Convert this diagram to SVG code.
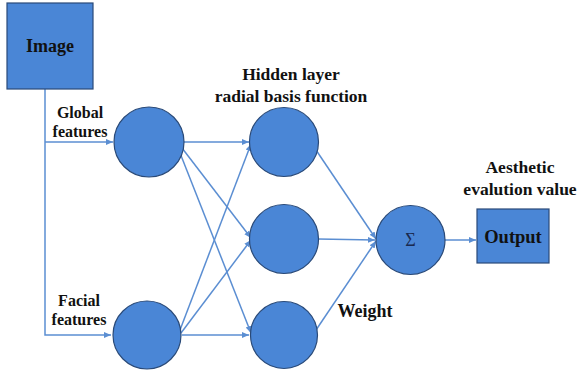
<svg xmlns="http://www.w3.org/2000/svg" width="579" height="375" viewBox="0 0 579 375">
<defs>
<style>
.n{fill:#4A86D6;stroke:#2A4A78;stroke-width:1.2}
.c{stroke:#5B8ED2;stroke-width:1.5;fill:none}
.t{font-family:'Liberation Serif','Times New Roman','DejaVu Serif',serif;font-weight:bold;fill:#111;text-anchor:middle}
.s{font-family:'Liberation Serif','Times New Roman','DejaVu Serif',serif;fill:#1a2a50;text-anchor:middle}
</style>
<marker id="a" markerWidth="8" markerHeight="8" refX="7" refY="4" orient="auto" markerUnits="userSpaceOnUse">
<path d="M0,1 L7,4 L0,7 z" fill="#5B8ED2"/>
</marker>
</defs>
<rect width="579" height="375" fill="#fff"/>
<g id="connectors">
<polyline class="c" points="45,89 45,335 111,335" marker-end="url(#a)"/>
<line class="c" x1="45" y1="142" x2="113" y2="142" marker-end="url(#a)"/>
<line class="c" x1="184" y1="142" x2="249" y2="142" marker-end="url(#a)"/>
<line class="c" x1="182" y1="148" x2="251" y2="238" marker-end="url(#a)"/>
<line class="c" x1="180" y1="153" x2="251" y2="333" marker-end="url(#a)"/>
<line class="c" x1="180" y1="330" x2="251" y2="144" marker-end="url(#a)"/>
<line class="c" x1="181" y1="333" x2="251" y2="240" marker-end="url(#a)"/>
<line class="c" x1="182" y1="335" x2="249" y2="335" marker-end="url(#a)"/>
<line class="c" x1="316" y1="150" x2="376" y2="239" marker-end="url(#a)"/>
<line class="c" x1="318" y1="239" x2="375" y2="240" marker-end="url(#a)"/>
<line class="c" x1="316" y1="330" x2="376" y2="241" marker-end="url(#a)"/>
<line class="c" x1="445" y1="240" x2="476" y2="240" marker-end="url(#a)"/>
</g>
<g id="image">
<rect class="n" x="7" y="3" width="86" height="86"/>
<text class="t" x="50" y="52" font-size="18">Image</text>
</g>
<g id="global">
<circle class="n" cx="149" cy="142" r="35"/>
<text class="t" x="80" y="118" font-size="16">Global</text>
<text class="t" x="80" y="137" font-size="16">features</text>
</g>
<g id="facial">
<circle class="n" cx="147" cy="335" r="34"/>
<text class="t" x="79" y="306" font-size="16">Facial</text>
<text class="t" x="79" y="325" font-size="16">features</text>
</g>
<g id="hidden-label">
<text class="t" x="291" y="80" font-size="17.5">Hidden layer</text>
<text class="t" x="291" y="102" font-size="17.5">radial basis function</text>
</g>
<g id="h1"><circle class="n" cx="284" cy="142" r="34.5"/></g>
<g id="h2"><circle class="n" cx="284" cy="239" r="34.5"/></g>
<g id="h3"><circle class="n" cx="284" cy="335" r="33.5"/></g>
<g id="weight"><text class="t" x="365" y="317" font-size="18">Weight</text></g>
<g id="sum">
<circle class="n" cx="410.5" cy="240" r="34.5"/>
<text class="s" x="410.5" y="246" font-size="18">Σ</text>
</g>
<g id="output">
<rect class="n" x="477" y="209" width="72" height="54"/>
<text class="t" x="513" y="243" font-size="18.5">Output</text>
<text class="t" x="520" y="173" font-size="17.5">Aesthetic</text>
<text class="t" x="520" y="195" font-size="17.5">evalution value</text>
</g>
</svg>
